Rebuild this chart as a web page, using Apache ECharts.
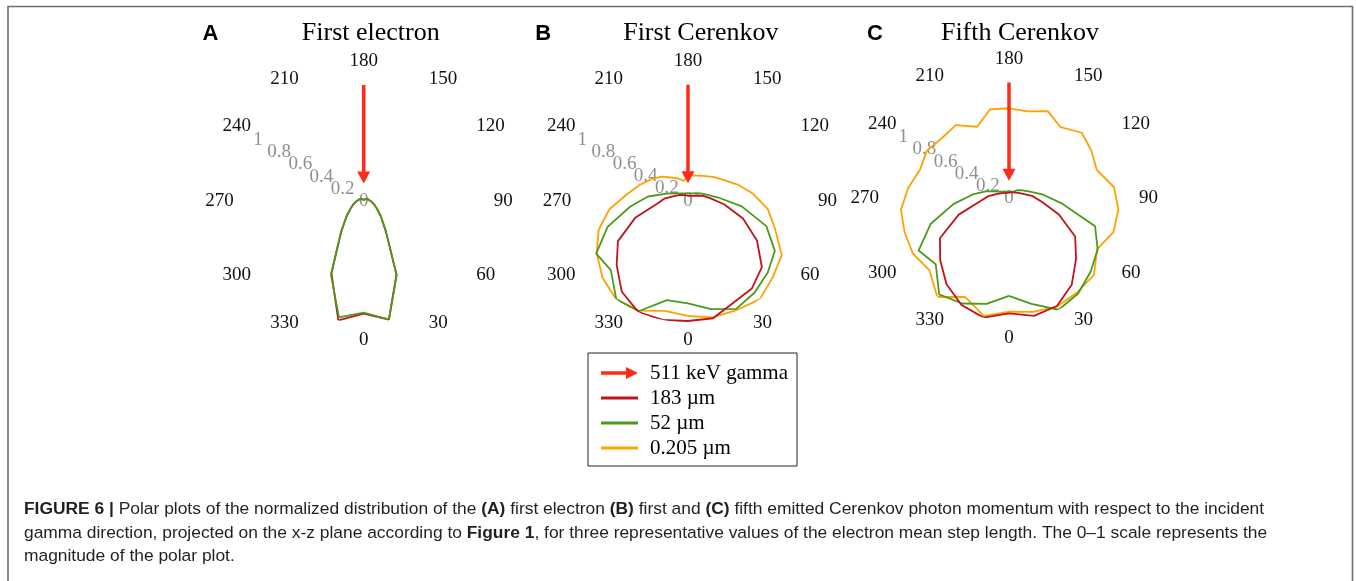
<!DOCTYPE html>
<html>
<head>
<meta charset="utf-8">
<script src="https://cdn.jsdelivr.net/npm/echarts@6.0.0/dist/echarts.min.js"></script>
<style>
  html, body { margin: 0; padding: 0; background: #fff; }
  #chart { width: 1356px; height: 581px; }
</style>
</head>
<body>
<div id="chart"></div>
<script>
// Emission directions (degrees), one sample every 12 degrees
const angles = [0, 12, 24, 36, 48, 60, 72, 84, 96, 108, 120, 132, 144, 156, 168,
                180, 192, 204, 216, 228, 240, 252, 264, 276, 288, 300, 312, 324, 336, 348];

// Panel titles and letters
const panelLetters = ['A', 'B', 'C'];
const panelTitles = ['First electron', 'First Cerenkov', 'Fifth Cerenkov'];

// Series names (legend)
const gammaName = '511 keV gamma';
const stepNames = ['183 µm', '52 µm', '0.205 µm'];

// Incident gamma arrow: radial start and end along 180 degrees
const gammaArrow = [0.95, 0.193];
const gammaAngle = 180;

// (A) first electron
const aRed = [0.923, 0.993, 0.66, 0.31, 0.19, 0.125, 0.09, 0.065, 0.05, 0.04, 0.03, 0.025, 0.02, 0.015, 0.01,
              0.01, 0.01, 0.015, 0.02, 0.025, 0.03, 0.04, 0.05, 0.065, 0.09, 0.125, 0.19, 0.317, 0.65, 1.0];
const aGreen = [0.915, 0.995, 0.665, 0.31, 0.19, 0.125, 0.09, 0.065, 0.05, 0.04, 0.03, 0.025, 0.02, 0.015, 0.01,
                0.01, 0.01, 0.015, 0.02, 0.025, 0.03, 0.04, 0.05, 0.065, 0.09, 0.125, 0.19, 0.315, 0.66, 0.975];

// (B) first Cerenkov photon
const bRed = [0.986, 0.985, 0.915, 0.89, 0.815, 0.653, 0.474, 0.3, 0.187, 0.13, 0.085, 0.06, 0.05, 0.045, 0.04,
              0.04, 0.04, 0.05, 0.06, 0.07, 0.09, 0.12, 0.19, 0.258, 0.455, 0.663, 0.787, 0.923, 1.0, 0.998];
const bGreen = [0.841, 0.909, 0.971, 0.93, 0.88, 0.822, 0.675, 0.443, 0.25, 0.16, 0.12, 0.094, 0.075, 0.066, 0.062,
                0.061, 0.062, 0.066, 0.075, 0.09, 0.12, 0.185, 0.33, 0.478, 0.693, 0.869, 0.851, 1.0, 0.992, 0.833];
const bOrange = [0.945, 0.977, 0.981, 1.0, 0.936, 0.888, 0.75, 0.658, 0.537, 0.428, 0.339, 0.29, 0.25, 0.225, 0.21,
                 0.205, 0.165, 0.2, 0.235, 0.296, 0.35, 0.418, 0.503, 0.646, 0.77, 0.864, 0.943, 1.0, 0.986, 0.924];

// (C) fifth Cerenkov photon
const cRed = [0.943, 0.985, 0.966, 0.875, 0.74, 0.626, 0.43, 0.27, 0.19, 0.12, 0.09, 0.07, 0.06, 0.05, 0.05,
              0.04, 0.045, 0.05, 0.055, 0.065, 0.08, 0.11, 0.17, 0.238, 0.433, 0.654, 0.759, 0.871, 0.957, 1.0];
const cGreen = [0.8, 0.884, 1.0, 0.964, 0.9, 0.839, 0.742, 0.442, 0.283, 0.18, 0.13, 0.1, 0.07, 0.06, 0.055,
                0.054, 0.055, 0.06, 0.07, 0.08, 0.108, 0.191, 0.3, 0.458, 0.674, 0.856, 0.808, 0.974, 0.944, 0.885];
const cOrange = [0.93, 0.951, 0.971, 0.952, 0.937, 0.834, 0.9, 0.901, 0.866, 0.756, 0.78, 0.803, 0.72, 0.782, 0.729,
                 0.738, 0.746, 0.642, 0.742, 0.739, 0.778, 0.766, 0.83, 0.89, 0.9, 0.909, 0.879, 1.0, 0.884, 0.988];

// Caption lines ({b|...} marks bold runs)
const captionLines = [
  '{b|FIGURE 6 |} Polar plots of the normalized distribution of the {b|(A)} first electron {b|(B)} first and {b|(C)} fifth emitted Cerenkov photon momentum with respect to the incident',
  'gamma direction, projected on the x-z plane according to {b|Figure 1}, for three representative values of the electron mean step length. The 0\u20131 scale represents the',
  'magnitude of the polar plot.'
];

// ---------------------------------------------------------------------------
const COLORS = { gamma: '#ff2b17', red: '#c0141c', green: '#4c9a1c', orange: '#ffa200' };
const SERIF = "'Liberation Serif', 'Times New Roman', serif";
const SANS = "'Liberation Sans', Arial, sans-serif";
const CAPTION_SIZE = 17.4;

const panels = [
  { center: [363.7, 201], radius: 122, lines: [[stepNames[0], aRed, COLORS.red], [stepNames[1], aGreen, COLORS.green]],
    titleX: 370.8, letterX: 210.5 },
  { center: [688, 200.7], radius: 122, lines: [[stepNames[2], bOrange, COLORS.orange], [stepNames[1], bGreen, COLORS.green], [stepNames[0], bRed, COLORS.red]],
    titleX: 700.8, letterX: 543.3, movedLabel: { value: 270, x: 557, y: 200.7 } },
  { center: [1009, 198.3], radius: 122, lines: [[stepNames[2], cOrange, COLORS.orange], [stepNames[1], cGreen, COLORS.green], [stepNames[0], cRed, COLORS.red]],
    titleX: 1020, letterX: 875 }
];

function closedLoop(values) {
  const pts = angles.map((a, i) => [values[i], a]);
  pts.push([values[0], 360]);
  return pts;
}

const polar = [], angleAxis = [], radiusAxis = [], series = [], graphic = [];
const angleLabelStyle = { color: '#111', fontFamily: SERIF, fontSize: 19 };

panels.forEach((p, k) => {
  const main = 2 * k, scale = 2 * k + 1;
  polar.push({ center: p.center, radius: p.radius });
  polar.push({ center: p.center, radius: p.radius });

  const moved = p.movedLabel;
  // direction labels around the plot; 0 at the bottom, increasing counter-clockwise
  angleAxis.push({
    polarIndex: main, type: 'value', min: 0, max: 360, interval: 30,
    startAngle: 270, clockwise: false,
    axisLine: { show: false }, axisTick: { show: false }, splitLine: { show: false },
    axisLabel: Object.assign({
      margin: 8,
      formatter: v => (moved && v === moved.value) ? '' : String(v)
    }, angleLabelStyle)
  });
  radiusAxis.push({ polarIndex: main, min: 0, max: 1, show: false });
  if (moved) {
    graphic.push({
      type: 'text', x: moved.x, y: moved.y,
      style: { text: String(moved.value), font: '19px ' + SERIF, fill: angleLabelStyle.color, align: 'center', verticalAlign: 'middle' }
    });
  }

  // magnitude scale 0–1 drawn along the 240 degree direction
  angleAxis.push({ polarIndex: scale, type: 'value', min: 0, max: 360, startAngle: 150, show: false });
  radiusAxis.push({
    polarIndex: scale, min: 0, max: 1, interval: 0.2,
    axisLine: { show: false }, axisTick: { show: false }, splitLine: { show: false },
    axisLabel: { margin: 0, align: 'center', verticalAlign: 'middle', color: '#8f8f8f', fontFamily: SERIF, fontSize: 19 }
  });

  p.lines.forEach(([name, values, color]) => {
    series.push({
      type: 'line', name, coordinateSystem: 'polar', polarIndex: main,
      data: closedLoop(values), symbol: 'none', smooth: false, z: 3,
      lineStyle: { color, width: 1.8 }, itemStyle: { color }
    });
  });

  series.push({
    type: 'line', name: gammaName, coordinateSystem: 'polar', polarIndex: main, z: 5,
    showSymbol: true,
    data: [
      { value: [gammaArrow[0], gammaAngle], symbol: 'none' },
      { value: [gammaArrow[1], gammaAngle], symbol: 'triangle', symbolSize: [13, 12], symbolRotate: 180 }
    ],
    lineStyle: { color: COLORS.gamma, width: 3.5 }, itemStyle: { color: COLORS.gamma }
  });

  graphic.push({
    type: 'text', x: p.titleX, y: 33.3,
    style: { text: panelTitles[k], font: '26px ' + SERIF, fill: '#000', align: 'center', verticalAlign: 'middle' }
  });
  graphic.push({
    type: 'text', x: p.letterX, y: 34,
    style: { text: panelLetters[k], font: 'bold 22px ' + SANS, fill: '#000', align: 'center', verticalAlign: 'middle' }
  });
});

// figure frame (open at the bottom)
graphic.push({
  type: 'rect', shape: { x: 8, y: 6.5, width: 1344.5, height: 700 },
  style: { fill: 'none', stroke: '#6f6f6f', lineWidth: 1.6 }, z: -1
});

captionLines.forEach((line, i) => {
  graphic.push({
    type: 'text', x: 24, y: 509.5 + i * 23.3,
    style: {
      text: line, font: CAPTION_SIZE + 'px ' + SANS, fill: '#231f20', align: 'left', verticalAlign: 'middle',
      rich: { b: { fontWeight: 'bold', fontFamily: SANS, fontSize: CAPTION_SIZE, fill: '#231f20' } }
    }
  });
});

const LINE_ICON = 'path://M0,0H37V3H0Z';
const ARROW_ICON = 'path://M0,4.3H25V0L37,6L25,12V7.7H0Z';

const chart = echarts.init(document.getElementById('chart'), null, { renderer: 'canvas' });
chart.setOption({
  backgroundColor: '#fff',
  animation: false,
  polar, angleAxis, radiusAxis, series, graphic,
  legend: {
    orient: 'vertical', left: 588, top: 353,
    padding: [9, 9, 7, 13], itemGap: 3, itemWidth: 37, itemHeight: 12,
    borderColor: '#222', borderWidth: 1, selectedMode: false,
    itemStyle: { borderWidth: 0 },
    textStyle: { fontFamily: SERIF, fontSize: 21, color: '#000', lineHeight: 22, padding: [0, 0, 0, 7] },
    data: [
      { name: gammaName, icon: ARROW_ICON },
      { name: stepNames[0], icon: LINE_ICON },
      { name: stepNames[1], icon: LINE_ICON },
      { name: stepNames[2], icon: LINE_ICON }
    ]
  }
});
</script>
</body>
</html>
